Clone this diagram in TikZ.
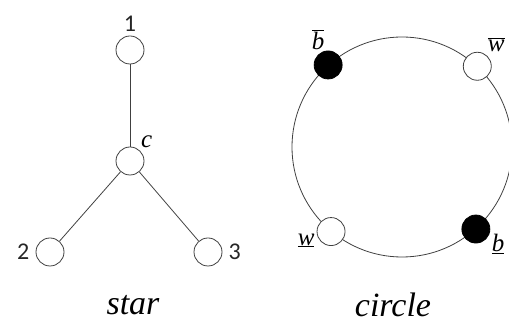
\documentclass[tikz,border=0pt]{standalone}
\usepackage{fontspec}
\setmainfont{Liberation Serif}
\newfontfamily\digitfont{Carlito}
\usetikzlibrary{positioning}
\tikzset{
  vert/.style={draw=black!75, line width=0.8pt, circle, fill=white,
               minimum size=28pt, inner sep=0pt},
  bvert/.style={vert, fill=black, draw=black},
  edge/.style={draw=black!75, line width=0.8pt},
  num/.style={font=\digitfont\fontsize{24}{26}\selectfont, text=black!85, inner sep=1pt},
  sym/.style={font=\fontsize{25}{27}\selectfont, inner sep=1pt},
  caption/.style={font=\itshape\fontsize{34}{36}\selectfont, inner sep=0pt},
}
\newcommand{\lett}[1]{\textit{#1}}
\begin{document}
\begin{tikzpicture}[x=1pt, y=1pt]
\useasboundingbox (0,0) rectangle (509,326);

% --- star ---
\node[vert, label={[num, label distance=3pt]above:1}] (top) at (130,276) {};
\node[vert, label={[sym, label distance=1pt]50:\lett{c}}] (ctr) at (130,165) {};
\node[vert, label={[num, label distance=5pt]left:2}] (left) at (50,74) {};
\node[vert, label={[num, label distance=5pt]right:3}] (right) at (208,74) {};

\draw[edge] (top) -- (ctr);
\draw[edge] (ctr) -- (left);
\draw[edge] (ctr) -- (right);

\node[caption] (star) at (133,21) {star};

% --- circle ---
\node[edge, circle, minimum size=220pt, inner sep=0pt] (ring) at (402,179) {};

\node[bvert, label={[sym, label distance=0pt]100:$\overline{\lett{b}}$}] (bt) at (ring.132) {};
\node[vert, label={[sym, label distance=2pt]55:$\overline{\lett{w}}$}] (wt) at (ring.47) {};
\node[vert, label={[sym, label distance=1pt]183:$\underline{\lett{w}}$}] (wb) at (ring.230) {};
\node[bvert, label={[sym, label distance=1pt]-15:$\underline{\lett{b}}$}] (bb) at (ring.312) {};

\node[caption] (circ) at (393,21) {circle};

\end{tikzpicture}
\end{document}
